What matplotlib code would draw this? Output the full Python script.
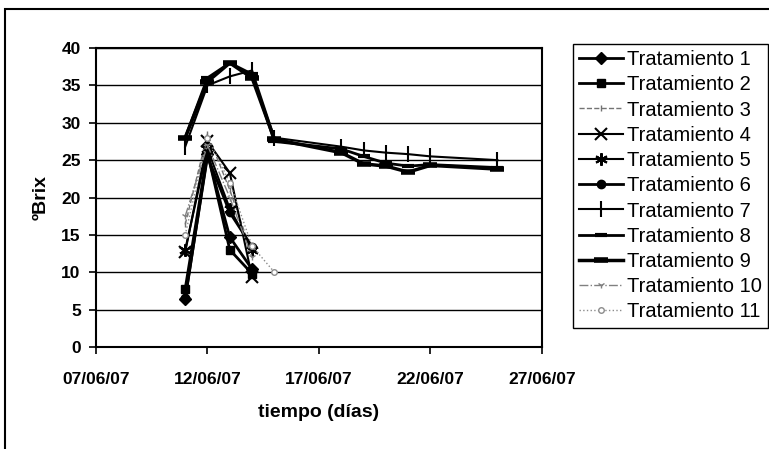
import matplotlib
matplotlib.use("Agg")
import matplotlib.pyplot as plt
import matplotlib.dates as mdates
from matplotlib.patches import Rectangle
from datetime import date

plt.rcParams['font.family'] = ['Liberation Sans', 'DejaVu Sans']

# dias de muestreo (junio 2007)
dias_cortos = [11, 12, 13, 14]
dias_t11 = [11, 12, 13, 14, 15]
dias_largos = [11, 12, 13, 14, 15, 18, 19, 20, 21, 22, 25]

t1 = [6.4, 25.8, 14.7, 10.4]
t2 = [7.8, 26.0, 13.0, 9.8]
t3 = [16.4, 28.5, 21.0, 12.5]
t4 = [12.7, 27.5, 23.3, 9.3]
t5 = [13.0, 26.5, 18.5, 13.0]
t6 = [6.6, 25.5, 18.0, 13.4]
t7 = [26.8, 35.0, 36.2, 37.0, 28.0, 26.8, 26.3, 26.0, 25.8, 25.5, 25.0]
t8 = [28.0, 36.0, 38.0, 36.5, 27.5, 26.5, 25.5, 24.6, 24.2, 24.4, 24.0]
t9 = [28.0, 35.5, 38.0, 36.0, 27.8, 26.0, 24.5, 24.2, 23.4, 24.3, 23.8]
t10 = [17.5, 27.0, 20.0, 12.0]
t11 = [15.0, 28.0, 22.0, 13.5, 10.0]

fechas_c = [date(2007, 6, d) for d in dias_cortos]
fechas_11 = [date(2007, 6, d) for d in dias_t11]
fechas_l = [date(2007, 6, d) for d in dias_largos]

fig = plt.figure(figsize=(7.69, 4.49), dpi=100)
ax = fig.add_axes([96 / 769, 102 / 449, 446 / 769, 299 / 449])

ax.plot(fechas_c, t1, color='black', lw=2, marker='D', ms=6, label='Tratamiento 1')
ax.plot(fechas_c, t2, color='black', lw=2, marker='s', ms=6, label='Tratamiento 2')
ax.plot(fechas_c, t3, color='0.45', lw=1, ls='--', marker='|', ms=4, label='Tratamiento 3')
ax.plot(fechas_c, t4, color='black', lw=1.5, marker='x', ms=8, mew=1.5, label='Tratamiento 4')
ax.plot(fechas_c, t5, color='black', lw=1.5, marker=(6, 2, 0), ms=9, mew=1.5, label='Tratamiento 5')
ax.plot(fechas_c, t6, color='black', lw=2, marker='o', ms=6, label='Tratamiento 6')
ax.plot(fechas_l, t7, color='black', lw=1.5, marker='|', ms=12, mew=1.5, label='Tratamiento 7')
ax.plot(fechas_l, t8, color='black', lw=2, marker='_', ms=8, mew=3, label='Tratamiento 8')
ax.plot(fechas_l, t9, color='black', lw=2.5, marker='_', ms=10, mew=4, label='Tratamiento 9')
ax.plot(fechas_c, t10, color='0.5', lw=1, ls='-.', marker='1', ms=5, label='Tratamiento 10')
ax.plot(fechas_11, t11, color='0.55', lw=1, ls=':', marker='o', ms=4, mfc='white', label='Tratamiento 11')

ax.set_xlim(date(2007, 6, 7), date(2007, 6, 27))
ax.set_ylim(0, 40)
ax.set_xticks([date(2007, 6, d) for d in [7, 12, 17, 22, 27]])
ax.xaxis.set_major_formatter(mdates.DateFormatter('%d/%m/%y'))
ax.set_yticks(range(0, 41, 5))
ax.yaxis.grid(True, color='black', lw=1)
ax.set_axisbelow(True)
for s in ax.spines.values():
    s.set_linewidth(1.5)
ax.tick_params(direction='out', length=5, width=1.2, labelsize=12.5)
ax.tick_params(axis='x', pad=13)
ax.tick_params(axis='y', pad=6)
for lab in ax.get_xticklabels() + ax.get_yticklabels():
    lab.set_fontweight('bold')

ax.set_xlabel('tiempo (días)', fontsize=14, fontweight='bold', labelpad=12)
ax.set_ylabel('ºBrix', fontsize=14, fontweight='bold', labelpad=8)

fig.legend(loc='upper left', bbox_to_anchor=(573 / 769, 1 - 44 / 449),
           fontsize=14.5, frameon=True, fancybox=False, edgecolor='black',
           framealpha=1, handlelength=2.2, handletextpad=0.2, labelspacing=0.31,
           borderpad=0.3, borderaxespad=0)

fig.patches.append(Rectangle((5 / 769, -0.1), 1.1, 1 - 9 / 449 + 0.1,
                             transform=fig.transFigure, fill=False, lw=1.5,
                             edgecolor='black'))

fig.savefig('out.png', dpi=100)
